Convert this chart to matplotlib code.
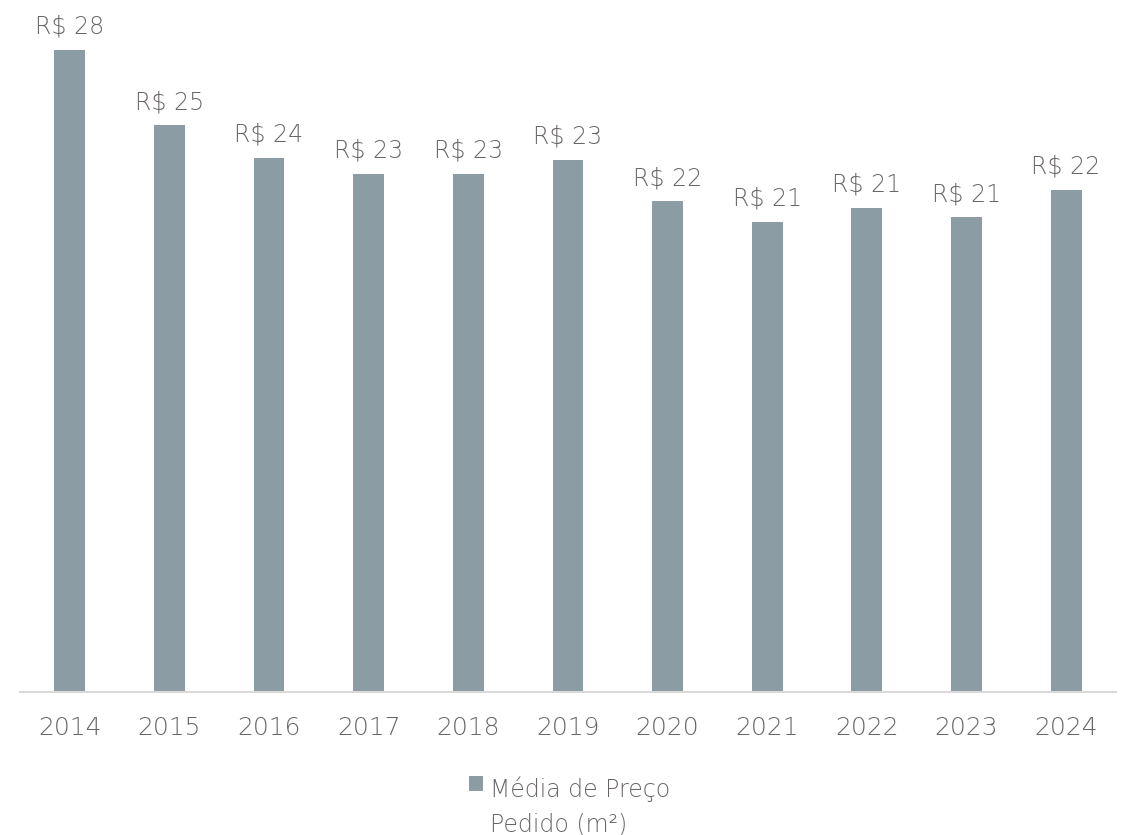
import matplotlib
matplotlib.use("Agg")
import matplotlib.pyplot as plt

anos = ["2014", "2015", "2016", "2017", "2018", "2019", "2020", "2021", "2022", "2023", "2024"]
preco_m2 = [28.0, 24.7, 23.3, 22.6, 22.6, 23.2, 21.4, 20.5, 21.1, 20.7, 21.9]
rotulos = ["R$ 28", "R$ 25", "R$ 24", "R$ 23", "R$ 23", "R$ 23", "R$ 22", "R$ 21", "R$ 21", "R$ 21", "R$ 22"]
serie = "Média de Preço\nPedido (m²)"

cor_barra = "#8b9ca5"
cor_texto = "#6a6666"

plt.rcParams["font.family"] = ["DejaVu Sans"]

fig = plt.figure(figsize=(11.22, 8.35), dpi=100)
ax = fig.add_axes([0.0178, 0.1713, 0.9768, 0.824])

x = range(len(anos))
barras = ax.bar(x, preco_m2, width=0.31, color=cor_barra, label=serie)

for b, txt in zip(barras, rotulos):
    ax.annotate(txt, (b.get_x() + b.get_width() / 2, b.get_height()),
                xytext=(0, 8), textcoords="offset points",
                ha="center", va="bottom", fontsize=17, color=cor_texto,
                fontweight="light")

ax.set_xlim(-0.5, len(anos) - 0.5)
ax.set_ylim(0, 30)
ax.set_xticks(list(x))
ax.set_xticklabels(anos, fontsize=18, color=cor_texto, fontweight="light")
ax.tick_params(axis="x", length=0, pad=17)
ax.set_yticks([])
for lado in ["top", "right", "left"]:
    ax.spines[lado].set_visible(False)
ax.spines["bottom"].set_color("#d9d9d9")
ax.spines["bottom"].set_linewidth(1.5)

leg = fig.legend(loc="upper center", bbox_to_anchor=(0.508, 0.096), frameon=False,
                 fontsize=17, labelcolor=cor_texto, handlelength=0.6, handleheight=0.6,
                 handletextpad=0.3)
for t in leg.get_texts():
    t.set_linespacing(1.55)
    t.set_fontweight("light")
# quadrado alinhado com a primeira linha do texto
for coluna in leg._legend_handle_box.get_children():
    for par in coluna.get_children():
        par.align = "top"

fig.savefig("out.png", dpi=100)
